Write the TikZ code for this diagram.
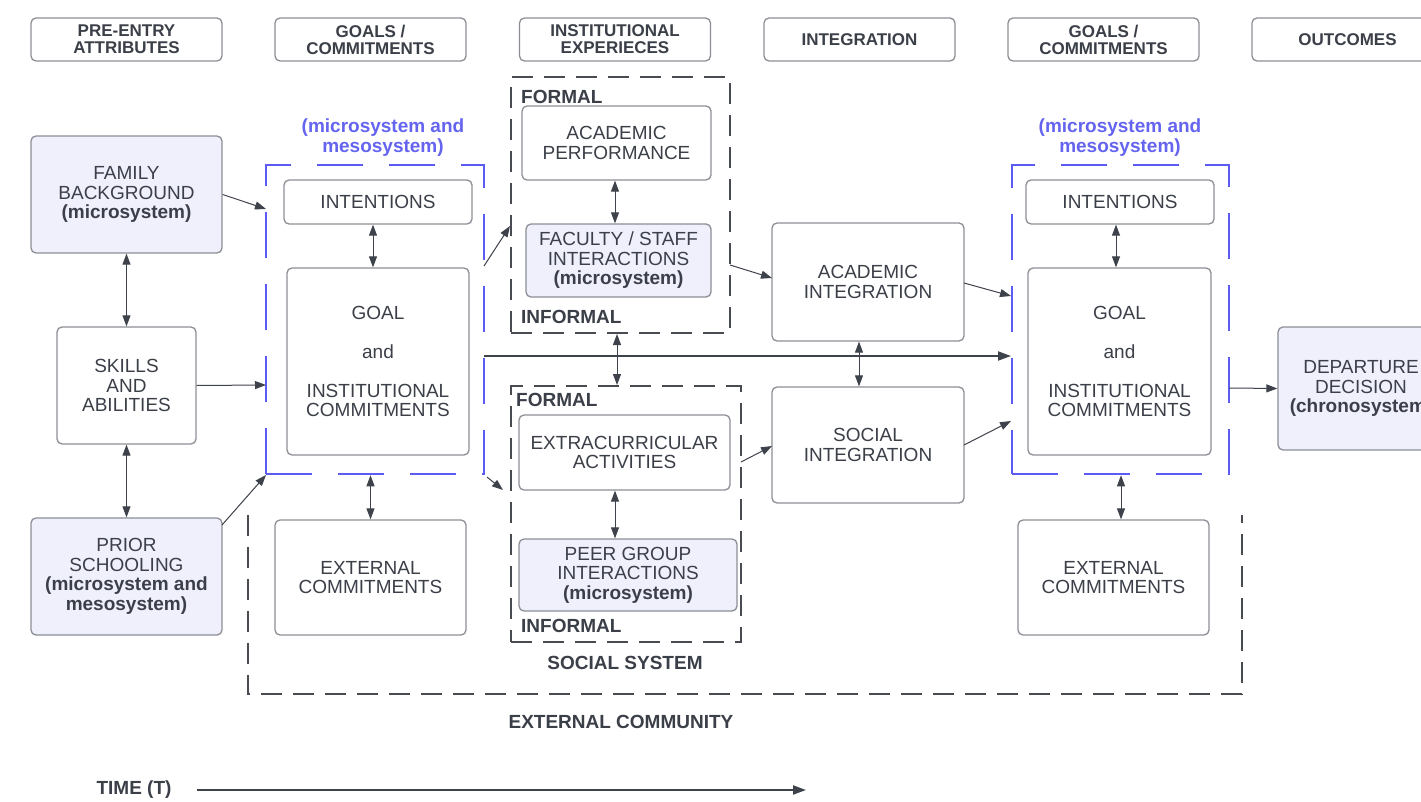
\documentclass[tikz,border=0pt]{standalone}
\usepackage{fontspec}
\setmainfont{Liberation Sans}
\usetikzlibrary{arrows.meta}
\definecolor{txt}{RGB}{59,63,72}
\definecolor{bord}{RGB}{140,143,150}
\definecolor{lav}{RGB}{240,240,252}
\definecolor{blu}{RGB}{92,92,245}
\definecolor{bluetext}{RGB}{100,100,240}
\definecolor{dsh}{RGB}{72,75,82}
\definecolor{arrc}{RGB}{62,66,75}
\begin{document}
\begin{tikzpicture}[x=1pt,y=-1pt,
  every node/.style={text=txt, inner sep=0pt, font=\fontsize{19}{19.5}\selectfont},
  box/.style={draw=bord, line width=1.3pt, rounded corners=5pt, align=center},
  lavbox/.style={box, fill=lav},
  hdr/.style={draw=bord, line width=1.3pt, rounded corners=5pt, align=center,
    minimum width=191pt, minimum height=43pt, font=\fontsize{17}{17}\selectfont\bfseries},
  lbl/.style={font=\fontsize{19}{19.5}\selectfont\bfseries},
  bluelbl/.style={align=center, text=bluetext, font=\fontsize{19}{20}\selectfont\bfseries},
  dashbox/.style={draw=dsh, line width=2pt, dash pattern=on 21pt off 11pt},
  bluebox/.style={draw=blu, line width=2.5pt, dash pattern=on 46pt off 26pt},
  conn/.style={draw=arrc, line width=1pt, -{Triangle[length=11pt,width=8pt]}},
  biconn/.style={draw=arrc, line width=1pt, {Triangle[length=11pt,width=8pt]}-{Triangle[length=11pt,width=8pt]}},
  thickconn/.style={draw=arrc, line width=2pt, -{Triangle[length=13pt,width=9pt]}}
]
\useasboundingbox[fill=white] (0,0) rectangle (1421,802);

% headers
\node[hdr] (h1) at (126.5,39.5) {PRE-ENTRY\\ATTRIBUTES};
\node[hdr] (h2) at (370.5,39.5) {GOALS /\\COMMITMENTS};
\node[hdr] (h3) at (615,39.5) {INSTITUTIONAL\\EXPERIECES};
\node[hdr] (h4) at (859.5,39.5) {INTEGRATION};
\node[hdr] (h5) at (1103.5,39.5) {GOALS /\\COMMITMENTS};
\node[hdr] (h6) at (1347.5,39.5) {OUTCOMES};

% external community
\draw[dashbox] (248,515) -- (248,694) -- (1242,694) -- (1242,515);
\node[lbl] (extcomm) at (621,722) {EXTERNAL COMMUNITY};

% left column
\node[lavbox, minimum width=191pt, minimum height=117pt] (fam) at (126.5,194.5)
  {FAMILY\\BACKGROUND\\\textbf{(microsystem)}};
\node[box, minimum width=139pt, minimum height=117pt] (skills) at (126.5,385.5)
  {SKILLS\\AND\\ABILITIES};
\node[lavbox, minimum width=191pt, minimum height=117pt] (prior) at (126.5,576.5)
  {PRIOR\\SCHOOLING\\\textbf{(microsystem and}\\\textbf{mesosystem)}};

% first goals group
\node[bluebox, minimum width=218pt, minimum height=309pt] (blue1) at (375,319.5) {};
\node[bluelbl] (bl1) at (383,138) {(microsystem and\\mesosystem)};
\node[box, minimum width=188pt, minimum height=44pt] (int1) at (378,202) {INTENTIONS};
\node[box, minimum width=182pt, minimum height=187pt] (goal1) at (378,361.5)
  {GOAL\\[19.5pt]and\\[19.5pt]INSTITUTIONAL\\COMMITMENTS};
\node[box, minimum width=191pt, minimum height=115pt] (ext1) at (370.5,577.5)
  {EXTERNAL\\COMMITMENTS};

% academic system
\node[dashbox, minimum width=219pt, minimum height=256pt] (acad) at (620.5,205) {};
\node[lbl, anchor=west] (formal1) at (521,97) {FORMAL};
\node[lbl, anchor=west] (informal1) at (521,317) {INFORMAL};
\node[box, minimum width=189pt, minimum height=74pt] (perf) at (616.5,143)
  {ACADEMIC\\PERFORMANCE};
\node[lavbox, minimum width=185pt, minimum height=73pt] (fac) at (618.5,260.5)
  {FACULTY / STAFF\\INTERACTIONS\\\textbf{(microsystem)}};

% social system
\node[dashbox, minimum width=230pt, minimum height=256pt] (social) at (626,514) {};
\node[lbl, anchor=west] (formal2) at (516,400) {FORMAL};
\node[lbl, anchor=west] (informal2) at (521,626) {INFORMAL};
\node[lbl] (socsys) at (625,663) {SOCIAL SYSTEM};
\node[box, minimum width=211pt, minimum height=75pt] (extra) at (624.5,452.5)
  {EXTRACURRICULAR\\ACTIVITIES};
\node[lavbox, minimum width=218pt, minimum height=72pt] (peer) at (628,575)
  {PEER GROUP\\INTERACTIONS\\\textbf{(microsystem)}};

% integration
\node[box, minimum width=192pt, minimum height=118pt] (acint) at (868,282)
  {ACADEMIC\\INTEGRATION};
\node[box, minimum width=192pt, minimum height=116pt] (soint) at (868,445)
  {SOCIAL\\INTEGRATION};

% second goals group
\node[bluebox, minimum width=217pt, minimum height=309pt] (blue2) at (1120.5,319.5) {};
\node[bluelbl] (bl2) at (1120,138) {(microsystem and\\mesosystem)};
\node[box, minimum width=188pt, minimum height=44pt] (int2) at (1120,202) {INTENTIONS};
\node[box, minimum width=183pt, minimum height=187pt] (goal2) at (1119.5,361.5)
  {GOAL\\[19.5pt]and\\[19.5pt]INSTITUTIONAL\\COMMITMENTS};
\node[box, minimum width=191pt, minimum height=115pt] (ext2) at (1113.5,577.5)
  {EXTERNAL\\COMMITMENTS};

% outcome
\node[lavbox, minimum width=166pt, minimum height=123pt] (dep) at (1361,388.5)
  {DEPARTURE\\DECISION\\\textbf{(chronosystem)}};

% time
\node[lbl] (time) at (134,790) {TIME (T)};
\coordinate (tend) at (806,790);
\draw[thickconn] ([xshift=25pt]time.east) -- (tend);

% connector end points
\coordinate (b1a) at (266,209);
\coordinate (b1b) at (266,385);
\coordinate (b1c) at (266,475);
\coordinate (p1) at (222,525);
\coordinate (b1out1) at (484,266);
\coordinate (acin) at (510,226);
\coordinate (b1out2) at (487,477);
\coordinate (socin) at (503,490);
\coordinate (hstart) at (484,356);
\coordinate (hend) at (1011,356);
\coordinate (acout) at (730,265);
\coordinate (acintin) at (772,278);
\coordinate (socout) at (741,462);
\coordinate (sointin) at (772,446);
\coordinate (b2a) at (1011,296);
\coordinate (b2b) at (1011,421);
\coordinate (acintout) at (964,283);
\coordinate (sointout) at (964,445);
\coordinate (b2out) at (1229,388);

% connectors
\draw[conn] (fam.east) -- (b1a);
\draw[conn] (skills.east) -- (b1b);
\draw[conn] (p1) -- (b1c);
\draw[biconn] (fam.south) -- (skills.north);
\draw[biconn] (skills.south) -- (prior.north);
\draw[biconn] ([xshift=-5pt]int1.south) -- ([xshift=-5pt]goal1.north);
\draw[biconn] (ext1.north |- blue1.south) -- (ext1.north);
\draw[conn] (b1out1) -- (acin);
\draw[conn] (b1out2) -- (socin);
\draw[thickconn] (hstart) -- (hend);
\draw[biconn] ([xshift=-3.5pt]acad.south) -- ([xshift=-9pt]social.north);
\draw[biconn] ([xshift=-1.5pt]perf.south) -- ([xshift=-3.5pt]fac.north);
\draw[biconn] ([xshift=-9.5pt]extra.south) -- ([xshift=-13pt]peer.north);
\draw[conn] (acout) -- (acintin);
\draw[conn] (socout) -- (sointin);
\draw[biconn] ([xshift=-9pt]acint.south) -- ([xshift=-9pt]soint.north);
\draw[conn] (acintout) -- (b2a);
\draw[conn] (sointout) -- (b2b);
\draw[biconn] ([xshift=-4pt]int2.south) -- ([xshift=-3.5pt]goal2.north);
\draw[biconn] ([xshift=7.5pt]ext2.north |- blue2.south) -- ([xshift=7.5pt]ext2.north);
\draw[conn] (b2out) -- (dep.west);
\end{tikzpicture}
\end{document}
